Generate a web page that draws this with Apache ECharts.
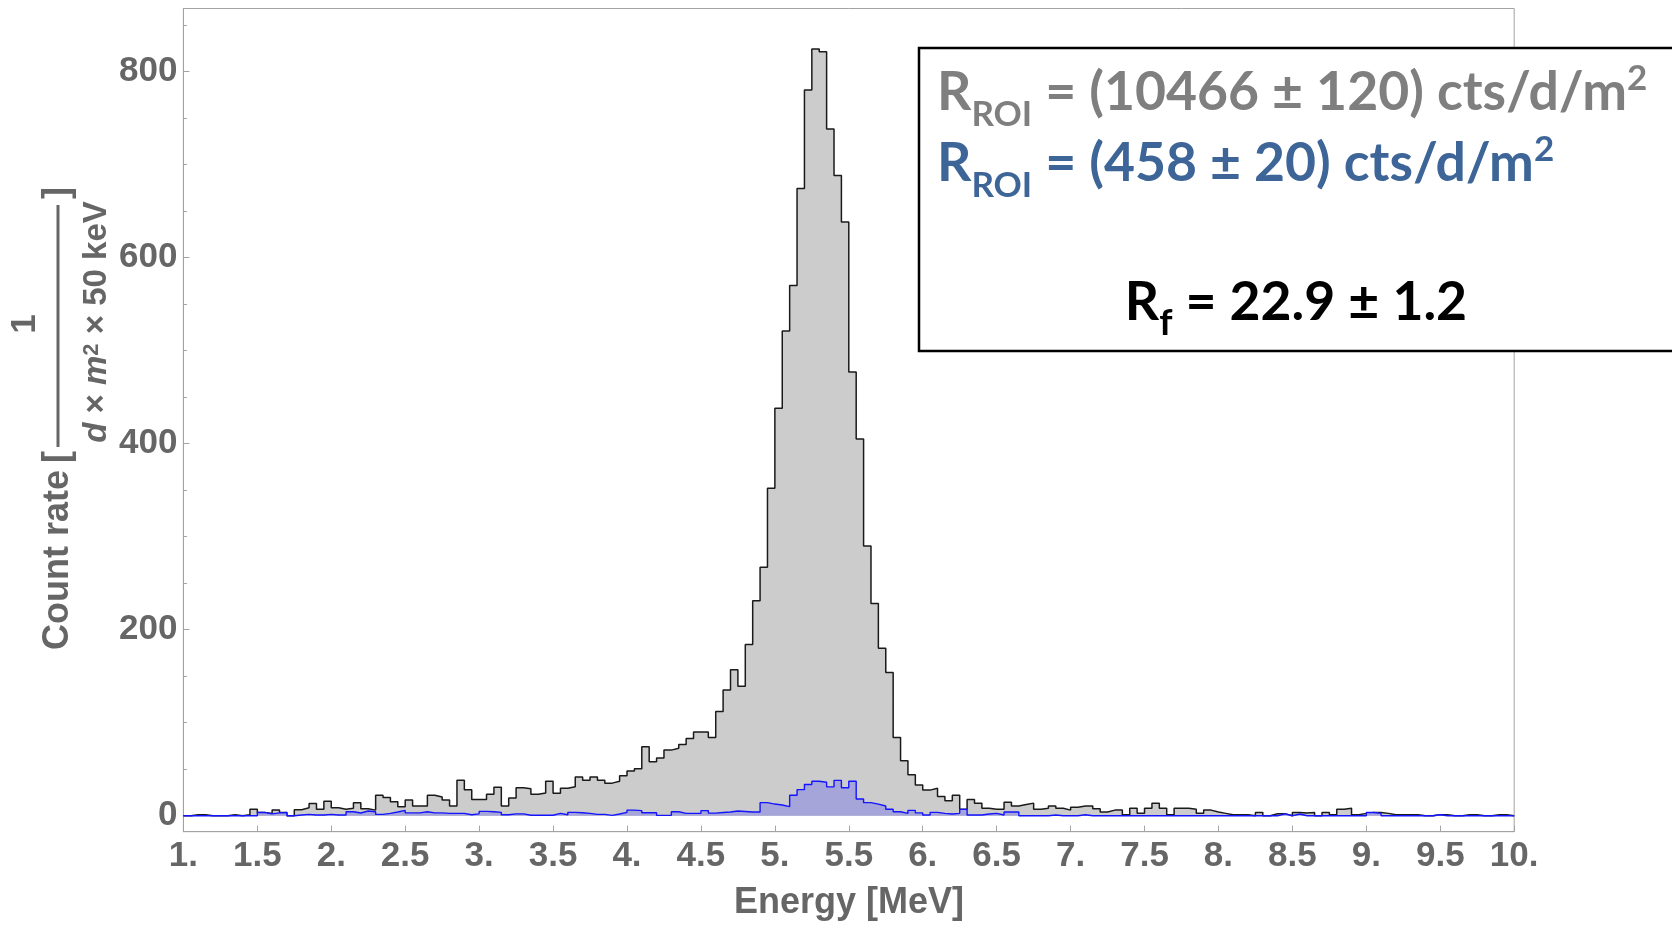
<!DOCTYPE html>
<html>
<head>
<meta charset="utf-8">
<script src="https://cdn.jsdelivr.net/npm/echarts@6.0.0/dist/echarts.min.js"></script>
<style>
html,body{margin:0;padding:0;background:#ffffff;}
#chart{width:1672px;height:925px;}
</style>
</head>
<body>
<div id="chart"></div>
<script>
// ---- Data -------------------------------------------------------------
const binStart = 1.0;   // MeV, left edge of first bin
const binWidth = 0.05;  // MeV (50 keV bins)

// count rate per bin, all events (grey histogram), 1.00 ... 9.95 MeV
const allCounts = [
  0, 1, 1, 0, 0, 0, 1, 0, 1, 7,
  3.5, 2.5, 6, 3.5, 0, 6.5, 8.5, 13, 7, 15.5,
  8.5, 7, 8, 14, 7.5, 6, 22, 19.5, 15, 9.5,
  17, 10.5, 10.5, 22, 20, 17, 10.5, 38, 28, 17.5,
  17.5, 23, 30.5, 10.5, 19, 30, 29, 23, 24.5, 37,
  24, 29.5, 31, 41.5, 38, 41.5, 38, 35, 37, 43,
  48, 50.5, 74, 58, 62, 70.5, 72.5, 76.5, 83, 90,
  90, 84, 112, 135, 157, 139, 184, 231, 267, 352,
  438, 521, 570, 674, 780, 824, 821, 738, 688, 638,
  477, 405, 290, 228, 180, 154, 84, 59, 44, 33,
  27.5, 29.5, 20.5, 16, 22, 7, 17.5, 13.5, 8, 7,
  7, 14.5, 10.5, 12, 13.5, 7, 8, 10.5, 8, 6,
  9, 10.5, 10.5, 7.5, 4, 6, 6, 1, 8, 2.5,
  8, 13.5, 8, 1, 8, 8, 7, 2.5, 6, 4,
  2.5, 1, 1, 1, 0, 3.5, 0, 2, 2, 0,
  3.5, 3, 3.5, 0, 3.5, 1, 7, 8, 1, 2.5,
  3.5, 3.5, 2.5, 1, 1, 1, 1, 0, 0, 1,
  1, 0, 0, 1, 1, 0, 0, 1, 1, 0
];

// count rate per bin, selected events (blue histogram)
const selectedCounts = [
  0, 0, 0, 0, 0, 0, 0, 0, 0, 0,
  3.5, 2, 3, 3.5, 0, 0.7, 1.4, 0.7, 0.7, 1.4,
  0.7, 0.7, 4.3, 2.9, 5, 4.3, 1.4, 2.5, 4, 5.7,
  3, 3, 4.3, 3, 3, 2.5, 2.5, 2.5, 1, 2,
  4.6, 4.3, 3.6, 1, 2, 2, 0.5, 0.5, 0.5, 0.5,
  2.5, 1, 3.6, 3.2, 2.5, 1.4, 1.4, 0.4, 1.8, 3.6,
  6, 5.4, 3.2, 3.2, 0.3, 0.3, 4.3, 2.5, 2.5, 2.5,
  5.5, 2.8, 3.4, 4, 5, 4.5, 4, 4, 14, 12.5,
  11.5, 9.7, 22, 28, 33.5, 37, 36, 31, 38, 30,
  37, 18, 14, 12.5, 10.4, 7, 4.3, 2.5, 5.7, 3,
  0.7, 3.6, 2.5, 1.8, 2.5, 6.8, 0.7, 0.7, 1.8, 2.5,
  0.7, 3.9, 3.9, 0, 0, 0, 0, 0.7, 0, 0,
  0, 1, 0, 0, 0, 0, 0, 0, 0, 0,
  0, 0, 0, 0, 0, 0, 0, 0, 0, 0,
  0, 0, 0, 0, 0, 0, 0, 0, 2, 0,
  1.8, 0, 0, 0, 0, 0, 0, 0, 0, 0,
  3.5, 2.5, 0, 0, 0, 0, 0, 0, 0, 1,
  0, 0, 0, 0, 0, 0, 0, 0, 0, 0
];

const xMin = 1, xMax = 10, xTickStep = 0.5;
const yMajorTicks = [0, 200, 400, 600, 800];
const yMinorTicks = [50, 100, 150, 250, 300, 350, 450, 500, 550, 650, 700, 750, 850];

const xTitle = 'Energy [MeV]';
const yTitleMain = 'Count rate';
const yTitleNumerator = '1';
const rateAllText = ' = (10466 ± 120) cts/d/m';
const rateSelText = ' = (458 ± 20) cts/d/m';
const ratioText = ' = 22.9 ± 1.2';

// ---- Helpers ----------------------------------------------------------
function histPoints(arr) {
  const pts = arr.map((v, i) => [+(binStart + i * binWidth).toFixed(3), v]);
  pts.push([+(binStart + arr.length * binWidth).toFixed(3), arr[arr.length - 1]]);
  return pts;
}

const mctx = document.createElement('canvas').getContext('2d');
function fontStr(p) { return (p.style || 'normal') + ' bold ' + p.size + 'px "' + p.family + '"'; }
function measure(p) { mctx.font = fontStr(p); return mctx.measureText(p.text); }

function runText(anchorX, baseline, parts, align) {
  const ms = parts.map(measure);
  const total = ms.reduce((a, m) => a + m.width, 0);
  let x = align === 'center' ? anchorX - total / 2 : anchorX;
  return parts.map((p, i) => {
    const m = ms[i];
    const mid = (m.fontBoundingBoxAscent - m.fontBoundingBoxDescent) / 2;
    const el = {
      type: 'text', z: 120,
      style: {
        text: p.text, x: x, y: baseline + (p.dy || 0) - mid,
        fontSize: p.size, fontFamily: p.family, fontWeight: 'bold', fontStyle: p.style || 'normal',
        fill: p.color, align: 'left', verticalAlign: 'middle'
      }
    };
    x += m.width;
    return el;
  });
}

// ---- Chart ------------------------------------------------------------
const chart = echarts.init(document.getElementById('chart'), null, { renderer: 'canvas' });

const frameColor = '#a3a3a3';
const labelColor = '#666666';
const axisFont = 'Liberation Sans';
const boxFont = 'Lato';
const greyTxt = '#7f7f7f', blueTxt = '#3d6597', blackTxt = '#000000';
const bigSize = 53.5, subSize = 35;

const graphics = [];
// result box
graphics.push({
  type: 'rect', z: 110,
  shape: { x: 919, y: 48, width: 800, height: 303 },
  style: { fill: '#ffffff', stroke: '#000000', lineWidth: 2.5 }
});
graphics.push(...runText(937, 114, [
  { text: 'R', size: bigSize, family: boxFont, color: greyTxt },
  { text: 'ROI', size: subSize, family: boxFont, color: greyTxt, dy: 15 },
  { text: rateAllText, size: bigSize, family: boxFont, color: greyTxt },
  { text: '2', size: subSize, family: boxFont, color: greyTxt, dy: -21 }
], 'left'));
graphics.push(...runText(937, 185, [
  { text: 'R', size: bigSize, family: boxFont, color: blueTxt },
  { text: 'ROI', size: subSize, family: boxFont, color: blueTxt, dy: 15 },
  { text: rateSelText, size: bigSize, family: boxFont, color: blueTxt },
  { text: '2', size: subSize, family: boxFont, color: blueTxt, dy: -21 }
], 'left'));
graphics.push(...runText(1296, 324, [
  { text: 'R', size: bigSize, family: boxFont, color: blackTxt },
  { text: 'f', size: 37, family: boxFont, color: blackTxt, dy: 14 },
  { text: ratioText, size: bigSize, family: boxFont, color: blackTxt }
], 'center'));

// x-axis title
graphics.push({
  type: 'text', z: 50,
  style: { text: xTitle, x: 849, y: 903.5, fontSize: 36, fontFamily: axisFont, fontWeight: 'bold',
           fill: labelColor, align: 'center', verticalAlign: 'middle' }
});
// y-axis title (rotated pieces)
function rotText(text, cx, cy, size) {
  return {
    type: 'text', z: 50, x: cx, y: cy, rotation: Math.PI / 2,
    style: { text: text, x: 0, y: 0, fontSize: size, fontFamily: axisFont, fontWeight: 'bold',
             fill: labelColor, align: 'center', verticalAlign: 'middle' }
  };
}
graphics.push(rotText(yTitleMain, 58, 560, 36));
graphics.push(rotText('[', 58, 457, 36));
graphics.push(rotText(']', 58, 193, 36));
graphics.push(rotText(yTitleNumerator, 25, 324, 35));
graphics.push({
  type: 'line', z: 50,
  shape: { x1: 58, y1: 205, x2: 58, y2: 447 },
  style: { stroke: labelColor, lineWidth: 3 }
});
graphics.push({
  type: 'text', z: 50, x: 97, y: 322, rotation: Math.PI / 2,
  style: {
    text: '{i|d} × {i|m}{s|2} × 50 keV', x: 0, y: 0,
    fontSize: 33, fontFamily: axisFont, fontWeight: 'bold', fill: labelColor,
    align: 'center', verticalAlign: 'middle',
    rich: {
      i: { fontSize: 33, fontFamily: axisFont, fontWeight: 'bold', fontStyle: 'italic', fill: labelColor },
      s: { fontSize: 22, fontFamily: axisFont, fontWeight: 'bold', fill: labelColor, verticalAlign: 'top', lineHeight: 22 }
    }
  }
});

const option = {
  animation: false,
  backgroundColor: '#ffffff',
  grid: { left: 183.4, right: 157.8, top: 8.5, bottom: 93.3, show: true,
          borderColor: frameColor, borderWidth: 1, backgroundColor: 'transparent' },
  xAxis: {
    type: 'value', min: xMin, max: xMax, interval: xTickStep,
    axisLine: { show: true, onZero: false, lineStyle: { color: frameColor, width: 1 } },
    axisTick: { show: true, inside: true, length: 6, lineStyle: { color: frameColor } },
    axisLabel: {
      margin: 7, fontFamily: axisFont, fontWeight: 'bold', fontSize: 35, color: labelColor,
      formatter: v => (Math.abs(v - Math.round(v)) < 1e-9 ? Math.round(v) + '.' : v.toFixed(1))
    },
    splitLine: { show: false }
  },
  yAxis: [
    {
      type: 'value', min: -17.2, max: 867.6,
      axisLine: { show: true, onZero: false, lineStyle: { color: frameColor, width: 1 } },
      axisTick: { show: true, inside: true, length: 6, customValues: yMajorTicks, lineStyle: { color: frameColor } },
      axisLabel: { customValues: yMajorTicks, margin: 6, fontFamily: axisFont, fontWeight: 'bold',
                   fontSize: 35, color: labelColor },
      splitLine: { show: false }
    },
    {
      type: 'value', min: -17.2, max: 867.6, position: 'left', offset: 0,
      axisLine: { show: false },
      axisTick: { show: true, inside: true, length: 3.5, customValues: yMinorTicks, lineStyle: { color: frameColor } },
      axisLabel: { show: false },
      splitLine: { show: false }
    }
  ],
  series: [
    {
      name: 'all', type: 'line', step: 'end', symbol: 'none', yAxisIndex: 0,
      data: histPoints(allCounts),
      lineStyle: { color: '#1a1a1a', width: 1.5 },
      areaStyle: { color: '#cccccc', opacity: 1 },
      z: 2
    },
    {
      name: 'selected', type: 'line', step: 'end', symbol: 'none', yAxisIndex: 0,
      data: histPoints(selectedCounts),
      lineStyle: { color: '#1414ff', width: 1.4 },
      areaStyle: { color: '#a5a5d9', opacity: 1 },
      z: 3
    }
  ],
  graphic: graphics
};
chart.setOption(option);
</script>
</body>
</html>
